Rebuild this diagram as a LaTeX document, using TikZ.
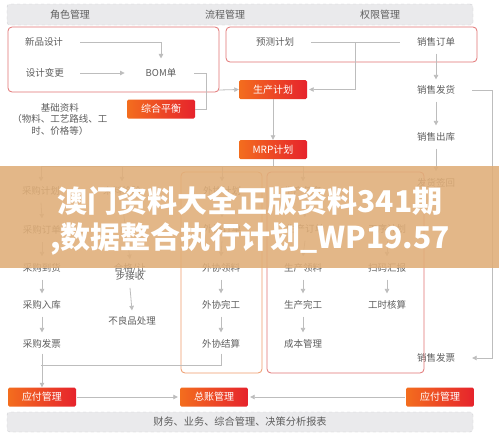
\documentclass[tikz,border=0pt]{standalone}
\usepackage{fontspec}
\setmainfont{Noto Sans CJK SC}
\usetikzlibrary{arrows.meta}
\definecolor{txt}{HTML}{5E5E5E}
\definecolor{ln}{HTML}{BDBDBD}
\definecolor{redl}{HTML}{E27474}
\definecolor{orl}{HTML}{EE9A6A}
\definecolor{og}{HTML}{F36D1E}
\definecolor{rd}{HTML}{E6232C}
\definecolor{barf}{HTML}{EAEAEC}
\definecolor{bard}{HTML}{CFCFD3}
\definecolor{ban}{HTML}{E0AE78}
\tikzset{
 lbl/.style={text=txt, font=\fontsize{9.5}{11.5}\selectfont, inner sep=1pt, align=center},
 hlbl/.style={lbl, font=\fontsize{10}{12}\selectfont},
 obox/.style={left color=og, right color=rd, rounded corners=1.5pt, minimum width=68pt, minimum height=19pt, text=white, font=\fontsize{10}{12}\selectfont, inner sep=0pt},
 barbox/.style={fill=barf, draw=bard, dashed, rounded corners=3pt, minimum width=466pt, minimum height=21pt, inner sep=0pt},
 rbox/.style={draw=redl, line width=0.8pt, rounded corners=4pt, inner sep=0pt},
 cline/.style={draw=ln, line width=0.8pt},
 arr/.style={cline, -{Triangle[length=4.5pt,width=4.5pt]}},
 bantxt/.style={text=white, font=\fontsize{30}{32}\selectfont\bfseries, inner sep=0pt},
}
\begin{document}
\begin{tikzpicture}[x=1pt,y=-1pt]
\useasboundingbox (0,0) rectangle (499,434);
\fill[white] (0,0) rectangle (499,434);
% header bar
\node[barbox] (hdr) at (240,14.5) {};
\node[hlbl] (h1) at (70,15) {角色管理};
\node[hlbl] (h2) at (225,15) {流程管理};
\node[hlbl] (h3) at (380,15) {权限管理};
% top boxes
\node[rbox, minimum width=211pt, minimum height=65pt] (boxA) at (113.5,59.5) {};
\node[rbox, minimum width=251pt, minimum height=35pt] (boxB) at (351.5,44.5) {};
\node[lbl] (n1) at (44,42) {新品设计};
\node[lbl] (n2) at (45,73) {设计变更};
\node[lbl] (bom) at (161,73) {BOM单};
\node[obox] (zh) at (161,109) {综合平衡};
\node[lbl] (jc) at (60,119) {基础资料\\（物料、工艺路线、工\\时、价格等）};
\node[obox] (pp) at (273,89.5) {生产计划};
\node[obox] (mrp) at (273,149.5) {MRP计划};
\node[lbl] (yc) at (275,42) {预测计划};
\node[lbl] (xd) at (436,42) {销售订单};
\node[lbl] (fh) at (436,90) {销售发货};
\node[lbl] (ck) at (436,137) {销售出库};
\node[lbl] (qh) at (436,183) {发货签回};
\node[lbl] (fp) at (436,358) {销售发票};
\coordinate (c1) at (219,90);
\coordinate (j1) at (355,42);
% top connectors
\draw[arr] ([xshift=16pt]n1.east) -| ([yshift=9pt]bom.north);
\draw[arr] ([xshift=15pt]n2.east) -- ([xshift=-20pt]bom.west);
\draw[cline] ([xshift=17pt]bom.east) -| ([xshift=11pt]zh.east) -- (zh.east);
\draw[arr] (c1) -- (pp.west);
\draw[cline] ([xshift=16pt]yc.east) -- ([xshift=-16pt]xd.west);
\draw[arr] (j1) |- ([xshift=2pt]pp.east);
\draw[arr] ([yshift=-6pt]xd.south) -- ([yshift=5pt]fh.north);
\draw[arr] ([yshift=-6pt]fh.south) -- ([yshift=6pt]ck.north);
\draw[arr] ([yshift=-6pt]ck.south) -- ([yshift=6pt]qh.north);
\draw[arr] ([xshift=16pt]fh.east) -- ++(20,0) |- ([xshift=16pt]fp.east);
\draw[arr] (pp.south) -- (mrp.north);
% middle boxes
\node[rbox, draw=orl, minimum width=81pt, minimum height=201pt] (wbox) at (221.5,272.5) {};
\node[rbox, minimum width=157pt, minimum height=201pt] (sbox) at (345.5,272.5) {};
% columns
\node[lbl] (cg1) at (41,191) {采购计划};
\node[lbl] (cg2) at (42,230) {采购订单};
\node[lbl] (cg3) at (42,268) {采购到货};
\node[lbl] (cg4) at (42,305) {采购入库};
\node[lbl] (cg5) at (42,344) {采购发票};
\node[lbl] (q1) at (122,191) {来料检验};
\node[lbl] (hg) at (130,272) {合格/让\\[-3pt]步接收};
\node[lbl] (bl) at (132,321) {不良品处理};
\node[lbl] (w1) at (222,191) {外协计划};
\node[lbl] (w2) at (222,229) {外协订单};
\node[lbl] (w3) at (221,268) {外协领料};
\node[lbl] (w4) at (221,305) {外协完工};
\node[lbl] (w5) at (221,344) {外协结算};
\node[lbl] (s1) at (303,191) {生产任务};
\node[lbl] (s2) at (305,229) {生产订单};
\node[lbl] (s3) at (303,268) {生产领料};
\node[lbl] (s4) at (303,305) {生产完工};
\node[lbl] (s5) at (303,344) {成本管理};
\node[lbl] (t2) at (387,229) {工序计划};
\node[lbl] (t3) at (387,268) {扫码汇报};
\node[lbl] (t4) at (387,305) {工时核算};
\coordinate (m1) at (273,166);
\coordinate (mL) at (41,166);
\coordinate (mR) at (303,166);
\draw[cline] (mrp.south) -- (m1);
\draw[cline] (mL) -- (mR);
\draw[arr] (mL) -- ([yshift=4pt]cg1.north);
\draw[arr] (122,166) -- ([yshift=4pt]q1.north);
\draw[arr] (222,166) -- ([yshift=4pt]w1.north);
\draw[arr] (mR) -- ([yshift=4pt]s1.north);
\foreach \a/\b in {cg1/cg2,cg2/cg3,cg3/cg4,cg4/cg5,w1/w2,w2/w3,w3/w4,w4/w5,s1/s2,s2/s3,s3/s4,s4/s5,t2/t3,t3/t4}
  \draw[arr] ([yshift=-6pt]\a.south) -- ([yshift=6pt]\b.north);
\draw[arr] ([yshift=-6pt]q1.south) -- ([yshift=3pt]hg.north);
\draw[arr] ([yshift=-6pt]hg.south) -- ([yshift=5pt]bl.north);
% bottom
\node[obox] (ap1) at (42,397) {应付管理};
\node[obox] (zz) at (214,397) {总账管理};
\node[obox] (ap2) at (440,397) {应付管理};
\coordinate (j2) at (41,365);
\draw[cline] ([yshift=-4pt]w5.south) |- (j2);
\draw[arr] ([yshift=-4pt]cg5.south) -- (ap1.north);
\draw[arr] ([xshift=1pt]ap1.east) -- ([xshift=-2pt]zz.west);
\draw[arr] ([xshift=-1pt]ap2.west) -- ([xshift=2pt]zz.east);
\node[barbox, minimum height=20pt] (ftr) at (240,422) {};
\node[lbl, font=\fontsize{10.2}{12}\selectfont] (ft) at (240,422) {财务、业务、综合管理、决策分析报表};
% banner
\fill[ban, opacity=0.88] (0,166) rectangle (499,268);
\node[bantxt] (bt1) at (250,201) {澳门资料大全正版资料341期};
\node[bantxt] (bt2) at (250,239) {,数据整合执行计划\_WP19.57};
\end{tikzpicture}
\end{document}
